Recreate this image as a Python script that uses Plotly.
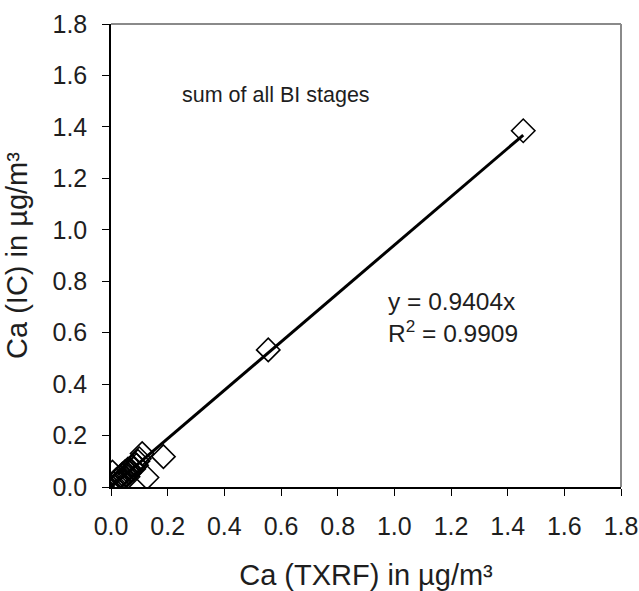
import plotly.graph_objects as go

# data (Ca TXRF vs Ca IC, µg/m³)
txrf = [1.455, 0.555, 0.185, 0.127, 0.11, 0.005, 0.02, 0.03, 0.035, 0.04, 0.045, 0.05,
        0.055, 0.06, 0.065, 0.07, 0.075, 0.08, 0.085, 0.09, 0.095, 0.1, 0.06, 0.04, 0.03]
ic = [1.385, 0.533, 0.118, 0.037, 0.13, 0.058, 0.03, 0.025, 0.04, 0.05, 0.035, 0.06,
      0.045, 0.07, 0.055, 0.065, 0.08, 0.07, 0.09, 0.085, 0.1, 0.11, 0.04, 0.03, 0.02]
slope = 0.9404
r2 = 0.9909
fit_x = [0.0, max(txrf)]
fit_y = [slope * v for v in fit_x]

FONT = "Liberation Sans, Arial, sans-serif"
TXT = "#1e1e1e"

fig = go.Figure()
fig.add_trace(go.Scatter(x=fit_x, y=fit_y, mode="lines",
                         line=dict(color="#000000", width=3), showlegend=False))
fig.add_trace(go.Scatter(x=txrf, y=ic, mode="markers",
                         marker=dict(symbol="diamond-open", size=18, color="#000000",
                                     line=dict(color="#000000", width=1.6)),
                         showlegend=False))

fig.add_annotation(x=0.245, y=1.525, xanchor="left", yanchor="middle", showarrow=False,
                   text="sum of all BI stages", font=dict(family=FONT, size=21.5, color=TXT))
fig.add_annotation(x=0.97, y=0.72, xanchor="left", yanchor="middle", showarrow=False,
                   text=f"y = {slope}x", font=dict(family=FONT, size=24.5, color=TXT))
fig.add_annotation(x=0.97, y=0.605, xanchor="left", yanchor="middle", showarrow=False,
                   text=f"R<sup>2</sup> = {r2}", font=dict(family=FONT, size=24.5, color=TXT))

# top and right frame lines (grey)
fig.add_shape(type="line", xref="paper", yref="paper", x0=0, x1=1, y0=1, y1=1,
              line=dict(color="#8a8a8a", width=2))
fig.add_shape(type="line", xref="paper", yref="paper", x0=1, x1=1, y0=0, y1=1,
              line=dict(color="#8a8a8a", width=2))

axis_common = dict(range=[0, 1.8], dtick=0.2, tick0=0, tickformat=".1f",
                   showgrid=False, zeroline=False, showline=True, linecolor="#000000",
                   linewidth=1.5, ticks="outside", ticklen=7, tickcolor="#000000",
                   tickwidth=1.2, automargin=False,
                   tickfont=dict(family=FONT, size=25, color=TXT))
fig.update_xaxes(**axis_common, ticklabelstandoff=9,
                 title=dict(text="Ca (TXRF) in µg/m³", font=dict(family=FONT, size=29, color=TXT),
                            standoff=28))
fig.update_yaxes(**axis_common, ticklabelstandoff=10,
                 title=dict(text="Ca (IC) in µg/m³", font=dict(family=FONT, size=29, color=TXT),
                            standoff=16))

fig.update_layout(width=639, height=591, paper_bgcolor="white", plot_bgcolor="white",
                  margin=dict(l=111, r=18, t=24, b=104), showlegend=False)

fig.write_html("out.html")
